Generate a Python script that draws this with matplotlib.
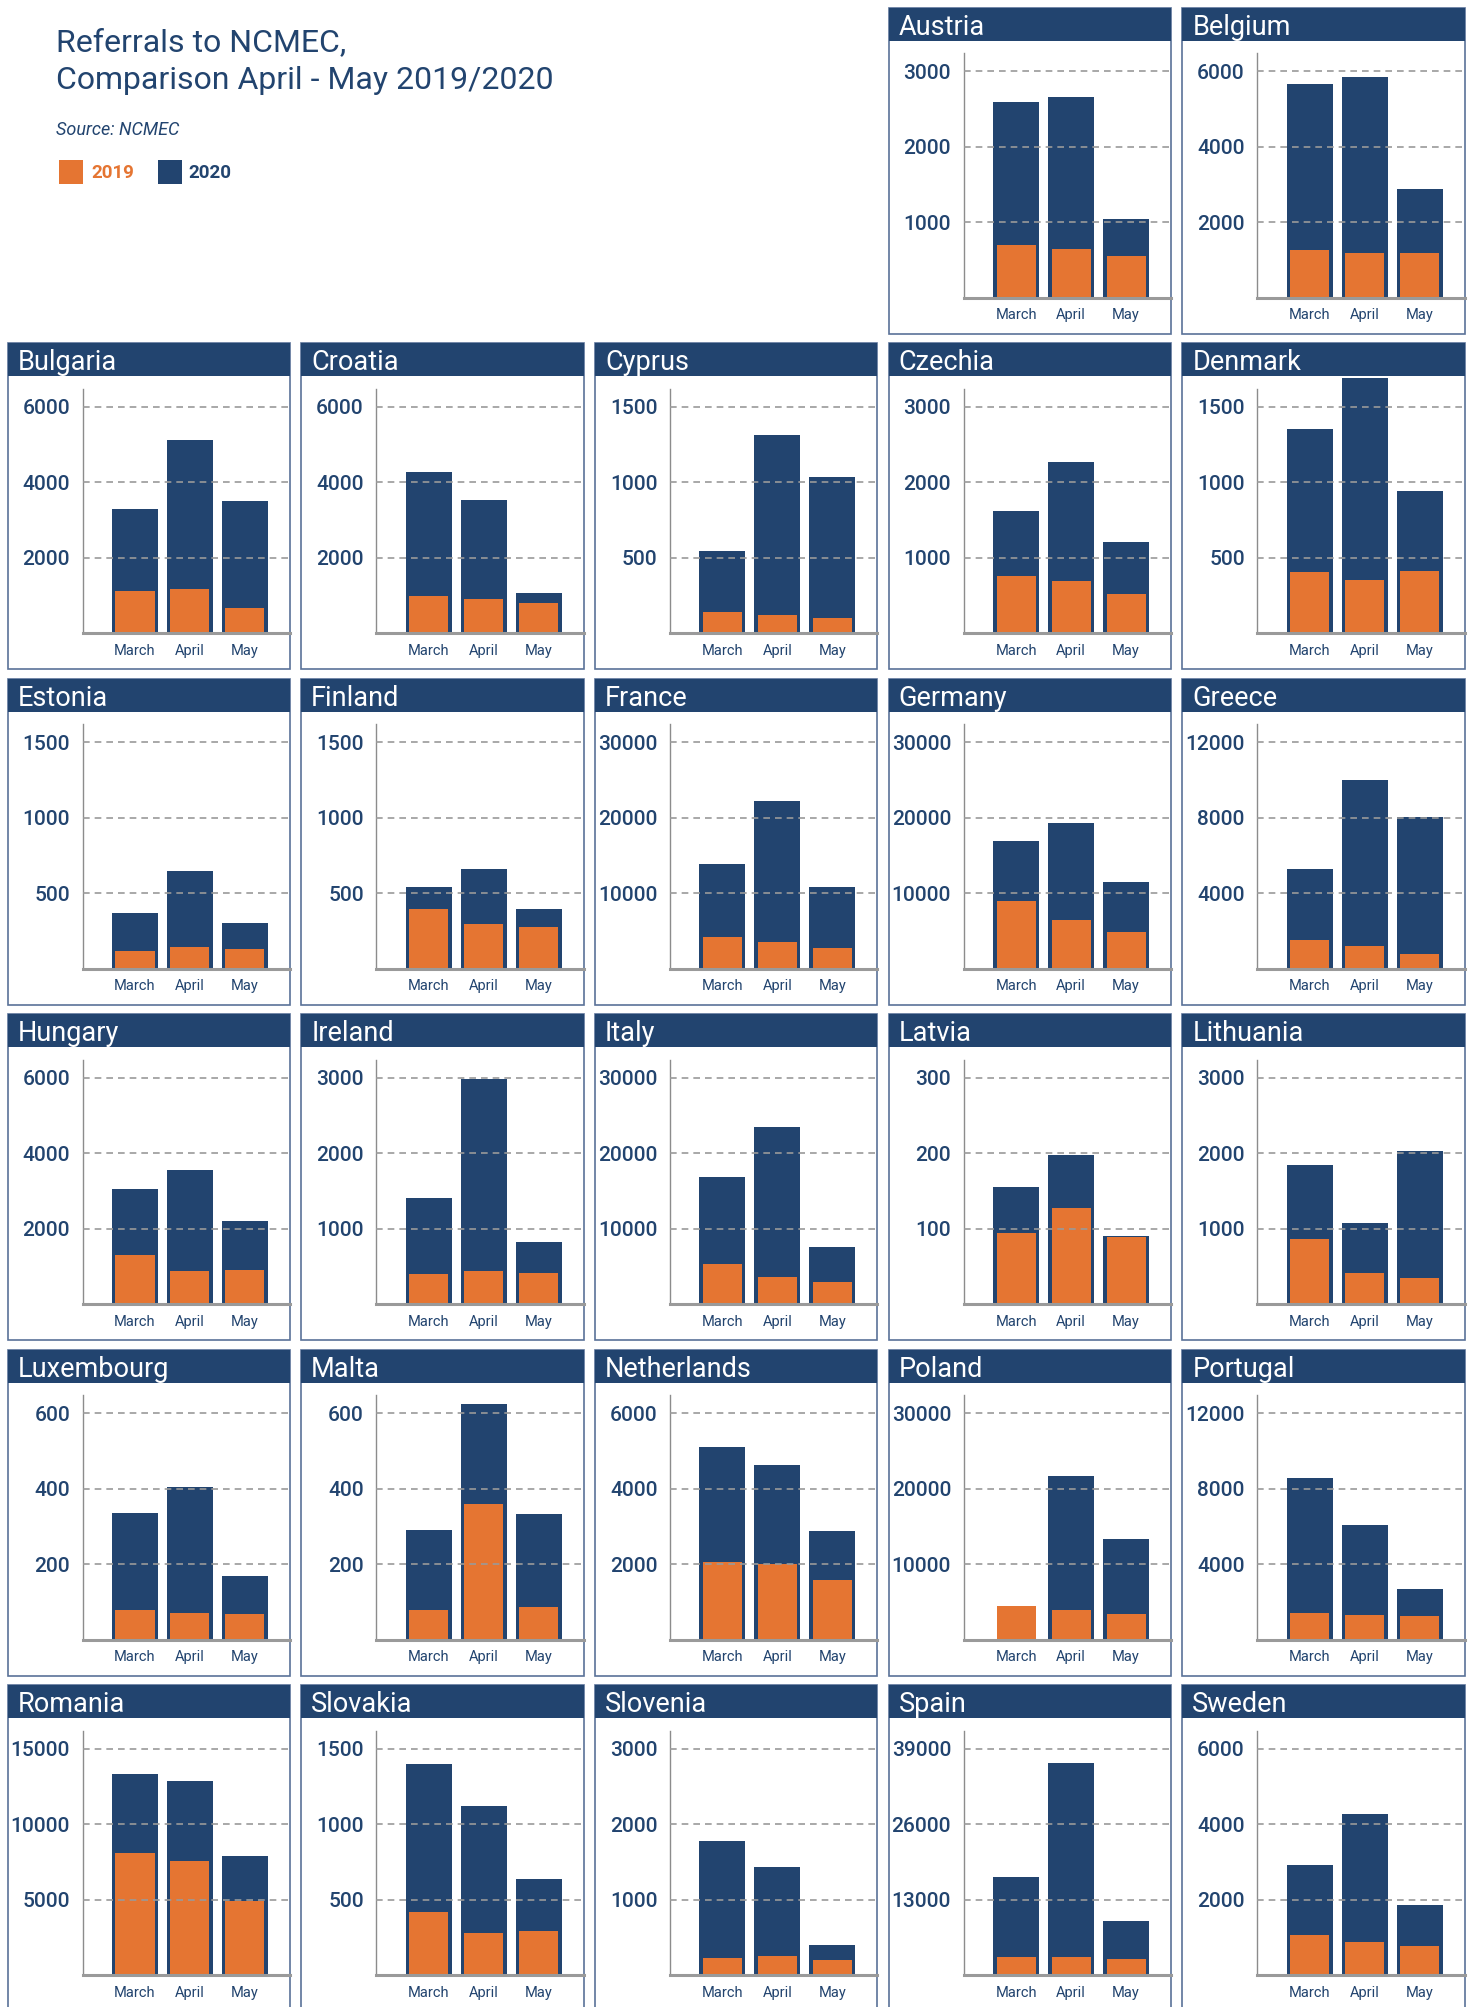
import numpy as np
import matplotlib
matplotlib.use("Agg")
import matplotlib.pyplot as plt
from matplotlib.patches import Rectangle

plt.rcParams['font.family'] = ['Roboto', 'DejaVu Sans']

NAVY = "#22446f"
ORANGE = "#e57532"
GRID = "#9a9a9a"
BORDER = "#5a7298"

months = ["March", "April", "May"]

countries = ["Austria", "Belgium",
             "Bulgaria", "Croatia", "Cyprus", "Czechia", "Denmark",
             "Estonia", "Finland", "France", "Germany", "Greece",
             "Hungary", "Ireland", "Italy", "Latvia", "Lithuania",
             "Luxembourg", "Malta", "Netherlands", "Poland", "Portugal",
             "Romania", "Slovakia", "Slovenia", "Spain", "Sweden"]

# top tick of each panel (ticks are top/3, 2*top/3, top)
top_tick = [3000, 6000,
            6000, 6000, 1500, 3000, 1500,
            1500, 1500, 30000, 30000, 12000,
            6000, 3000, 30000, 300, 3000,
            600, 600, 6000, 30000, 12000,
            15000, 1500, 3000, 39000, 6000]

march_2020 = [2594, 5665,
              3288, 4268, 544, 1617, 1352,
              371, 544, 13920, 16969, 5303,
              3049, 1405, 16836, 156, 1843,
              337, 290, 5099, 0, 8553,
              13322, 1399, 1776, 17004, 2934]
april_2020 = [2660, 5851,
              5117, 3526, 1312, 2267, 1690,
              650, 663, 22271, 19355, 10022,
              3553, 2983, 23464, 198, 1074,
              404, 624, 4622, 21653, 6061,
              12858, 1120, 1432, 36650, 4286]
may_2020 = [1043, 2881,
            3500, 1060, 1034, 1206, 941,
            305, 398, 10870, 11533, 8060,
            2201, 822, 7556, 90, 2028,
            170, 332, 2872, 13301, 2668,
            7887, 636, 398, 9421, 1874]

march_2019 = [698, 1264,
              1113, 981, 139, 756, 404,
              119, 398, 4242, 9015, 1538,
              1299, 398, 5303, 94, 862,
              80, 78, 2050, 4419, 1396,
              8086, 418, 225, 3217, 1078]
april_2019 = [645, 1184,
              1167, 901, 119, 689, 351,
              146, 298, 3579, 6496, 1220,
              875, 437, 3579, 127, 411,
              72, 359, 1997, 3889, 1290,
              7556, 278, 252, 3217, 893]
may_2019 = [552, 1184,
            663, 795, 99, 517, 411,
            133, 278, 2784, 4905, 795,
            901, 411, 2916, 89, 345,
            67, 88, 1573, 3358, 1237,
            4905, 292, 199, 2872, 787]

W, H = 1474, 2007
fig = plt.figure(figsize=(W / 100, H / 100), dpi=100)


def fx(x):
    return x / W


def fy(y):
    return 1 - y / H


# title block
fig.text(fx(56), fy(51), "Referrals to NCMEC,", fontsize=23, color=NAVY, va="baseline")
fig.text(fx(56), fy(89), "Comparison April - May 2019/2020", fontsize=23, color=NAVY, va="baseline")
fig.text(fx(56), fy(135), "Source: NCMEC", fontsize=13, color=NAVY, style="italic", va="baseline")
fig.patches.append(Rectangle((fx(59), fy(184)), 24 / W, 24 / H, transform=fig.transFigure,
                             facecolor=ORANGE, edgecolor="none"))
fig.text(fx(91), fy(178), "2019", fontsize=13.5, color=ORANGE, fontweight="bold", va="baseline")
fig.patches.append(Rectangle((fx(158), fy(184)), 24 / W, 24 / H, transform=fig.transFigure,
                             facecolor=NAVY, edgecolor="none"))
fig.text(fx(188), fy(178), "2020", fontsize=13.5, color=NAVY, fontweight="bold", va="baseline")

col_left = 7.5
col_pitch = 293.7
row_top = 7.7
row_pitch = 335.5
pw, ph = 282.5, 326
head_h = 33

x = np.arange(3)

for i, name in enumerate(countries):
    slot = i + 3
    r, c = divmod(slot, 5)
    L = col_left + c * col_pitch
    T = row_top + r * row_pitch

    # panel border
    fig.patches.append(Rectangle((fx(L), fy(T + ph)), pw / W, ph / H, transform=fig.transFigure,
                                 facecolor="none", edgecolor=BORDER, linewidth=1.2, zorder=-1))

    ax_l, ax_t, ax_b = L + 75, T + 45.6, T + 290
    ax = fig.add_axes([fx(ax_l), fy(ax_b), (L + pw - ax_l) / W, (ax_b - ax_t) / H])
    ax.set_zorder(1)
    v20 = [march_2020[i], april_2020[i], may_2020[i]]
    v19 = [march_2019[i], april_2019[i], may_2019[i]]
    ax.bar(x, v20, width=0.84, color=NAVY, zorder=2, clip_on=False)
    ax.bar(x, v19, width=0.71, color=ORANGE, zorder=3, clip_on=False)

    top = top_tick[i]
    ticks = [top / 3, 2 * top / 3, top]
    for t in ticks:
        ax.axhline(t, color=GRID, linewidth=1.2, linestyle=(0, (4, 3)), zorder=4)
    ax.set_ylim(0, top * 1.08)
    ax.set_xlim(-0.955, 2.82)
    ax.set_yticks(ticks)
    ax.set_yticklabels([f"{int(round(t))}" for t in ticks])
    ax.set_xticks(x)
    ax.set_xticklabels(months)
    ax.tick_params(axis="y", length=0, pad=9, labelsize=15, labelcolor=NAVY)
    ax.tick_params(axis="x", length=0, pad=7.5, labelsize=10.5, labelcolor=NAVY)
    for lab in ax.get_yticklabels():
        lab.set_fontweight("medium")
    for s in ["top", "right"]:
        ax.spines[s].set_visible(False)
    ax.spines["left"].set_color("#8c8c8c")
    ax.spines["left"].set_linewidth(1)
    ax.spines["bottom"].set_color("#9a9a9a")
    ax.spines["bottom"].set_linewidth(2.2)
    ax.spines["bottom"].set_zorder(5)
    ax.patch.set_visible(False)

    # header bar
    hx = fig.add_axes([fx(L), fy(T + head_h), pw / W, head_h / H])
    hx.set_zorder(3)
    hx.set_facecolor(NAVY)
    hx.set_xticks([])
    hx.set_yticks([])
    for s in hx.spines.values():
        s.set_visible(False)
    hx.text(10 / pw, (head_h - 27) / head_h, name, transform=hx.transAxes,
            fontsize=19.5, color="white", va="baseline", ha="left")

fig.savefig("out.png", dpi=100)
